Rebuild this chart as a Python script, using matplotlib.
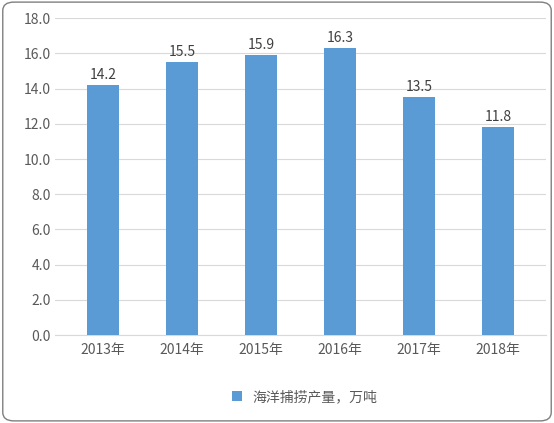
import matplotlib.pyplot as plt
from matplotlib.patches import FancyBboxPatch

plt.rcParams['font.family'] = ['Noto Sans CJK SC', 'DejaVu Sans']

years = ["2013年", "2014年", "2015年", "2016年", "2017年", "2018年"]
values = [14.2, 15.5, 15.9, 16.3, 13.5, 11.8]
series_name = "海洋捕捞产量，万吨"

fig = plt.figure(figsize=(5.54, 4.23), dpi=100)
border = FancyBboxPatch((0.005, 0.005), 0.99, 0.99, boxstyle="round,pad=0,rounding_size=0.02",
                        transform=fig.transFigure, fill=False, edgecolor="#7f7f7f", linewidth=1)
fig.patches.append(border)

ax = fig.add_axes([0.1, 0.208, 0.885, 0.749])
bars = ax.bar(range(len(years)), values, width=0.4, color="#5B9BD5", label=series_name, zorder=3)
for i, v in enumerate(values):
    ax.text(i, v + 0.2, f"{v:.1f}", ha="center", va="bottom", fontsize=10, color="#404040")

ax.set_ylim(0, 18)
ax.set_yticks(range(0, 19, 2))
ax.set_yticklabels([f"{t:.1f}" for t in range(0, 19, 2)])
ax.set_xlim(-0.6, len(years) - 0.4)
ax.set_xticks(range(len(years)))
ax.set_xticklabels(years)
ax.tick_params(length=0, labelsize=10, colors="#595959")
ax.tick_params(axis="x", pad=6)
ax.grid(axis="y", color="#d9d9d9", linewidth=0.8, zorder=0)
for s in ["top", "right", "left"]:
    ax.spines[s].set_visible(False)
ax.spines["bottom"].set_color("#d9d9d9")

fig.legend(handles=[bars], labels=[series_name], loc="center", bbox_to_anchor=(0.55, 0.062),
           frameon=False, fontsize=10, handlelength=0.7, handleheight=0.7, labelcolor="#595959")

fig.savefig("out.png", dpi=100)
